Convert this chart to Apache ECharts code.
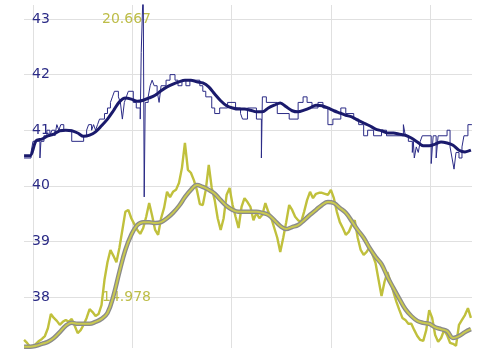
<!DOCTYPE html>
<html><head><meta charset="utf-8">
<script src="https://cdn.jsdelivr.net/npm/echarts@6/dist/echarts.min.js"></script>
<style>html,body{margin:0;padding:0;background:#fff}#c{width:500px;height:360px}</style>
</head><body><div id="c"></div>
<script>
// x positions (sample units)
const rawStart = 91, rawStep = 3;      // yellow raw sampling
const smStart = 91, smStep = 6;        // smoothed series sampling
const xGrid = [100, 200, 300, 400, 500];
const yTicks = [38, 39, 40, 41, 42, 43];
const y2Ticks = [14.978, 20.667];

// navy raw step series: change points
const navyRawX = [91,98,100,107,108,111,114,117,119,122,124,126,128,131,139,151,154,156,159,161,163,165,167,172,175,178,180,182,186,188,190,192,194,196,201,204,208,209,211,212,213,216,218,220,222,225,227,229,234,238,243,246,250,254,258,268,271,274,280,283,288,296,304,309,311,316,325,330,331,335,346,358,367,372,376,381,387,392,397,402,410,415,423,428,433,437,443,451,456,473,475,478,482,483,484,486,488,490,492,501,503,506,508,517,520,522,524,526,529,532,534,538,542];
const navyRawY = [40.5,40.6,40.8,40.5,40.8,40.9,41.0,40.9,41.0,40.9,41.1,41.0,41.1,41.0,40.8,40.9,41.0,41.1,41.0,41.1,41.0,41.1,41.2,41.3,41.4,41.5,41.6,41.7,41.6,41.5,41.2,41.5,41.6,41.7,41.5,41.4,41.2,42.4,43.6,39.8,41.5,41.6,41.8,41.9,41.8,41.7,41.5,41.8,41.9,42.0,41.9,41.8,41.9,41.8,41.9,41.8,41.7,41.6,41.4,41.3,41.4,41.5,41.4,41.3,41.2,41.4,41.2,40.5,41.6,41.5,41.3,41.2,41.5,41.6,41.5,41.4,41.5,41.4,41.1,41.2,41.4,41.3,41.2,41.1,40.9,41.0,40.9,41.0,40.9,41.1,40.9,40.8,40.6,40.8,40.5,40.7,40.6,40.8,40.9,40.4,40.9,40.5,40.9,41.0,40.7,40.5,40.3,40.6,40.5,40.7,40.9,41.1,41.1];

// navy smoothed
const navySmooth = [40.54,40.54,40.81,40.84,40.90,40.93,40.99,41.00,40.99,40.95,40.89,40.91,40.97,41.08,41.20,41.35,41.51,41.58,41.56,41.52,41.54,41.58,41.63,41.71,41.78,41.83,41.87,41.90,41.90,41.87,41.85,41.78,41.65,41.53,41.44,41.40,41.38,41.38,41.36,41.33,41.33,41.40,41.45,41.49,41.42,41.35,41.33,41.36,41.40,41.45,41.44,41.40,41.35,41.31,41.27,41.24,41.18,41.13,41.08,41.02,40.99,40.95,40.95,40.93,40.91,40.86,40.79,40.72,40.72,40.75,40.79,40.77,40.73,40.64,40.61,40.64];

// yellow raw (secondary axis)
const yellowRaw = [14.10,14.04,13.96,13.96,14.02,14.08,14.12,14.18,14.34,14.63,14.55,14.49,14.41,14.47,14.51,14.47,14.53,14.39,14.24,14.30,14.41,14.55,14.73,14.67,14.59,14.63,14.81,15.33,15.69,15.94,15.82,15.69,15.98,16.35,16.72,16.76,16.59,16.47,16.35,16.27,16.39,16.62,16.90,16.64,16.35,16.25,16.59,16.80,17.13,17.02,17.13,17.17,17.31,17.62,18.13,17.58,17.52,17.37,17.17,16.88,16.86,17.17,17.68,17.21,16.96,16.59,16.35,16.59,17.07,17.21,16.86,16.62,16.39,16.82,17.00,16.92,16.82,16.55,16.70,16.59,16.66,16.90,16.72,16.59,16.39,16.19,15.90,16.19,16.51,16.86,16.76,16.62,16.55,16.51,16.72,16.96,17.13,17.00,17.09,17.11,17.11,17.09,17.07,17.17,17.00,16.72,16.51,16.39,16.25,16.31,16.45,16.55,16.19,15.94,15.84,15.90,16.00,15.84,15.67,15.33,15.00,15.29,15.49,15.29,15.08,14.88,14.71,14.55,14.51,14.43,14.43,14.30,14.18,14.10,14.08,14.30,14.71,14.55,14.20,14.06,14.14,14.30,14.20,14.04,14.02,13.98,14.41,14.51,14.61,14.75,14.55];

// yellow smoothed
const yellowSmooth = [13.96,13.96,13.98,14.02,14.06,14.14,14.26,14.39,14.45,14.43,14.43,14.43,14.47,14.53,14.65,15.00,15.49,15.94,16.25,16.45,16.51,16.51,16.49,16.51,16.59,16.70,16.84,17.02,17.17,17.27,17.23,17.17,17.09,16.96,16.84,16.76,16.72,16.72,16.72,16.72,16.70,16.66,16.55,16.43,16.37,16.41,16.45,16.55,16.66,16.76,16.86,16.92,16.90,16.80,16.70,16.53,16.35,16.19,15.98,15.80,15.65,15.39,15.16,14.94,14.73,14.59,14.49,14.45,14.43,14.36,14.32,14.28,14.14,14.18,14.26,14.32];

const NAVY = '#2b2b86', NAVY_DARK = '#1a1a6c', YEL = '#c0c03c', YEL_LBL = '#bdbd48';

const navyRawData = navyRawX.map((x, i) => [x, navyRawY[i]]);
const navySmData = navySmooth.map((v, i) => [smStart + smStep * i, v]);
const yelRawData = yellowRaw.map((v, i) => [rawStart + rawStep * i, v]);
const yelSmData = yellowSmooth.map((v, i) => [smStart + smStep * i, v]);

const chart = echarts.init(document.getElementById('c'), null, {renderer: 'canvas'});
chart.setOption({
  animation: false,
  backgroundColor: '#fff',
  textStyle: {fontFamily: 'DejaVu Sans'},
  grid: {left: 24, right: 28, top: 5, bottom: 12, containLabel: false},
  xAxis: {
    type: 'value', min: 90.94, max: 542.1,
    axisLine: {show: false}, axisLabel: {show: false},
    axisTick: {show: false, customValues: xGrid},
    splitLine: {show: true, lineStyle: {color: '#e0e0e0', width: 1}}
  },
  yAxis: [{
    type: 'value', min: 37.083, max: 43.252, position: 'left',
    axisLine: {show: false},
    axisTick: {show: false, customValues: yTicks},
    axisLabel: {inside: true, margin: 8, color: NAVY, fontSize: 14, fontFamily: 'DejaVu Sans', customValues: yTicks},
    splitLine: {show: true, lineStyle: {color: '#e0e0e0', width: 1}}
  }, {
    type: 'value', min: 13.935, max: 20.952, position: 'left', offset: -70,
    axisLine: {show: false},
    axisTick: {show: false, customValues: y2Ticks},
    axisLabel: {inside: true, margin: 8, color: YEL_LBL, fontSize: 14, fontFamily: 'DejaVu Sans', customValues: y2Ticks},
    splitLine: {show: false}
  }],
  series: [
    {type: 'line', yAxisIndex: 1, data: yelRawData, symbol: 'none', lineStyle: {color: YEL, width: 2.4}, z: 2},
    {type: 'line', yAxisIndex: 1, data: yelSmData, symbol: 'none', smooth: 0.4, lineStyle: {color: '#8a8a8a', width: 4.5}, z: 3},
    {type: 'line', yAxisIndex: 1, data: yelSmData, symbol: 'none', smooth: 0.4, lineStyle: {color: '#c9c94e', width: 2}, z: 4},
    {type: 'line', yAxisIndex: 0, data: navyRawData, step: 'end', symbol: 'none', lineStyle: {color: NAVY, width: 1}, z: 5},
    {type: 'line', yAxisIndex: 0, data: navySmData, symbol: 'none', smooth: 0.3, lineStyle: {color: NAVY_DARK, width: 3}, z: 6}
  ]
});
</script></body></html>
